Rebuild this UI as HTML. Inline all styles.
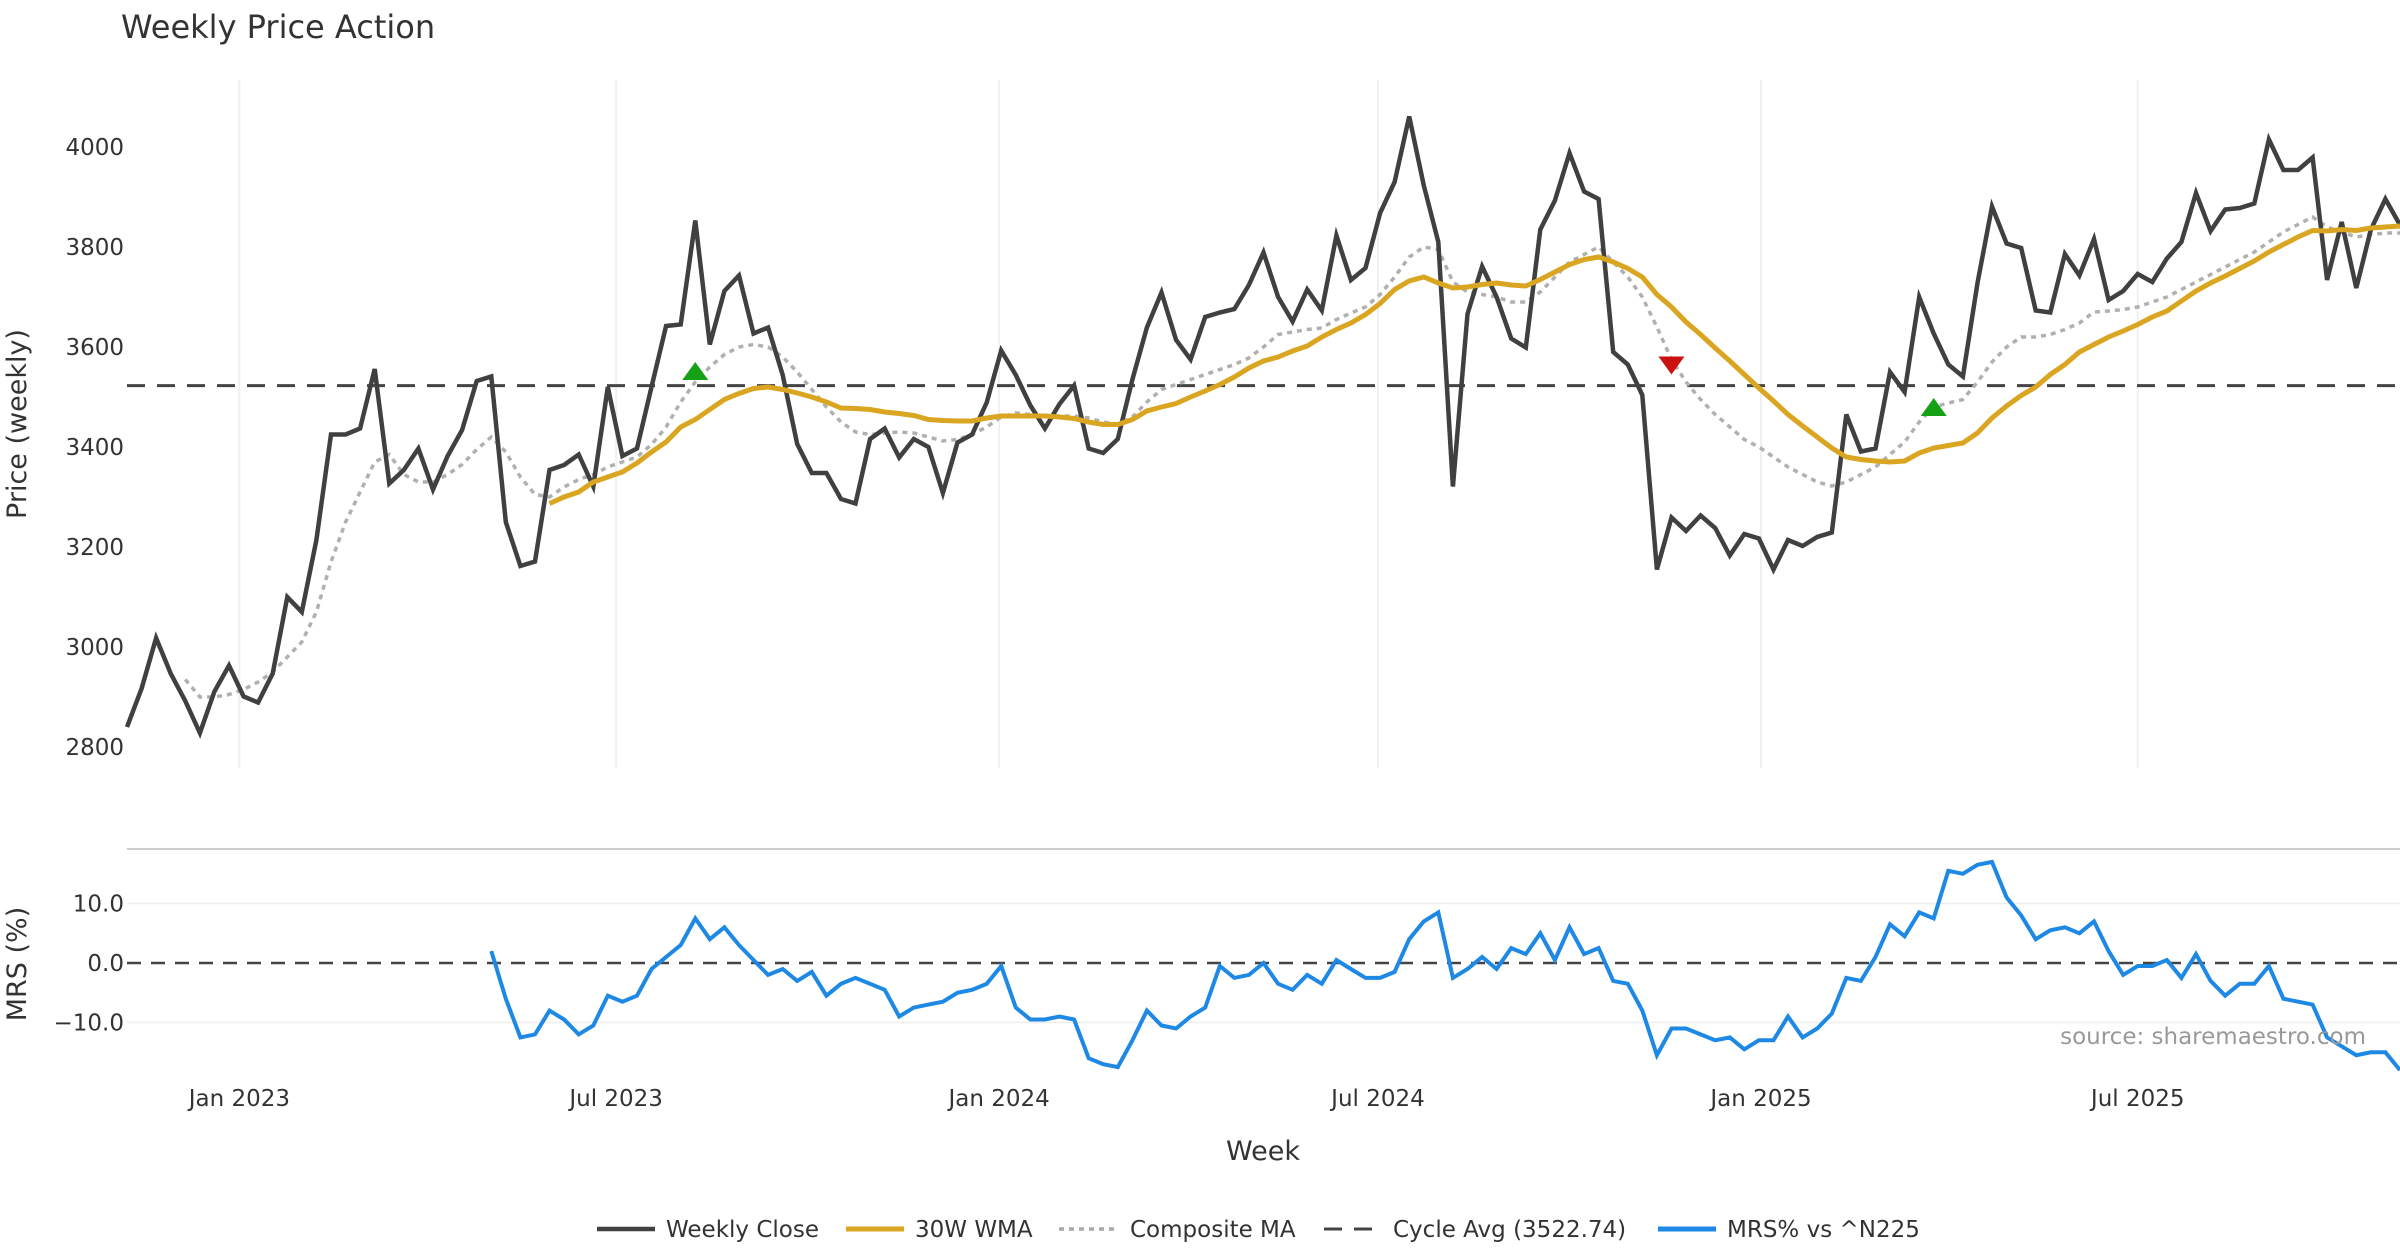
<!DOCTYPE html>
<html><head><meta charset="utf-8"><style>
html,body{margin:0;padding:0;background:#fff}
svg{display:block;font-family:"DejaVu Sans","Liberation Sans",sans-serif}
</style></head><body>
<svg id="chart" width="2400" height="1260" viewBox="0 0 2400 1260">
<text x="121" y="38" font-size="32" fill="#333">Weekly Price Action</text>
<g id="grid"></g>
<g id="price"></g>
<g id="mrs"></g>
<text x="2366" y="1044" font-size="23" fill="#999" text-anchor="end">source: sharemaestro.com</text>
<text x="1263" y="1160" font-size="27" fill="#333" text-anchor="middle">Week</text>
<text transform="translate(26,424) rotate(-90)" font-size="27" fill="#333" text-anchor="middle">Price (weekly)</text>
<text transform="translate(26,964) rotate(-90)" font-size="27" fill="#333" text-anchor="middle">MRS (%)</text>
<g id="legend" font-size="23" fill="#333">
<g><line x1="597" y1="1229" x2="655" y2="1229" stroke="#404040" stroke-width="4.5"/><text x="666" y="1237">Weekly Close</text></g>
<g><line x1="846" y1="1229" x2="904" y2="1229" stroke="#DAA520" stroke-width="5"/><text x="915" y="1237">30W WMA</text></g>
<g><line x1="1059" y1="1229" x2="1117" y2="1229" stroke="#aaa" stroke-width="3.5" stroke-dasharray="5,5"/><text x="1130" y="1237">Composite MA</text></g>
<g><line x1="1324" y1="1229" x2="1382" y2="1229" stroke="#444" stroke-width="3" stroke-dasharray="18,12"/><text x="1393" y="1237">Cycle Avg (3522.74)</text></g>
<g><line x1="1658" y1="1229" x2="1716" y2="1229" stroke="#1E88E5" stroke-width="5"/><text x="1727" y="1237">MRS% vs ^N225</text></g>
</g>
</svg>
<script>
const closeVals=[2840,2917,3018,2947,2892,2828,2911,2963,2901,2889,2947,3100,3070,3214,3425,3425,3437,3556,3327,3354,3397,3315,3382,3434,3532,3541,3250,3162,3171,3354,3364,3385,3321,3520,3382,3397,3520,3642,3645,3853,3605,3712,3743,3627,3639,3544,3406,3348,3348,3296,3287,3416,3437,3379,3416,3400,3308,3409,3425,3489,3593,3544,3483,3437,3486,3523,3397,3388,3416,3535,3639,3709,3614,3575,3660,3669,3676,3724,3789,3700,3651,3715,3673,3823,3734,3758,3868,3930,4061,3923,3810,3321,3666,3761,3700,3617,3599,3835,3893,3988,3911,3896,3590,3565,3504,3155,3259,3232,3263,3238,3183,3226,3217,3155,3214,3202,3220,3229,3465,3391,3397,3550,3510,3700,3627,3565,3541,3728,3881,3807,3798,3673,3669,3786,3743,3816,3694,3712,3746,3730,3777,3810,3908,3832,3875,3878,3887,4015,3954,3954,3979,3734,3850,3718,3835,3896,3844];
const wmaVals=[3287,3300,3310,3330,3340,3350,3368,3390,3410,3440,3455,3475,3495,3507,3517,3520,3515,3508,3500,3490,3478,3477,3475,3470,3467,3463,3455,3453,3452,3452,3458,3462,3462,3462,3462,3460,3457,3450,3445,3445,3455,3472,3480,3487,3500,3512,3525,3540,3558,3572,3580,3592,3602,3620,3635,3648,3665,3687,3715,3732,3740,3728,3718,3720,3725,3728,3724,3722,3735,3750,3765,3775,3780,3770,3757,3740,3705,3680,3650,3625,3598,3572,3545,3518,3492,3465,3442,3420,3398,3380,3375,3372,3370,3372,3388,3398,3403,3408,3428,3458,3482,3503,3520,3545,3565,3590,3605,3620,3632,3645,3660,3672,3692,3712,3728,3742,3757,3772,3790,3805,3820,3833,3832,3835,3833,3838,3840,3842];
const compVals=[2935,2900,2900,2905,2915,2930,2950,2980,3010,3070,3170,3250,3310,3370,3385,3345,3330,3330,3345,3365,3395,3420,3390,3340,3305,3300,3320,3335,3345,3360,3370,3380,3405,3440,3490,3530,3560,3585,3600,3605,3600,3580,3550,3515,3480,3450,3430,3425,3428,3430,3428,3420,3412,3415,3425,3440,3460,3468,3465,3462,3462,3462,3458,3450,3445,3460,3490,3515,3525,3535,3545,3555,3565,3578,3600,3625,3630,3635,3638,3655,3668,3680,3705,3740,3780,3800,3795,3730,3710,3705,3700,3690,3690,3710,3740,3770,3785,3800,3770,3740,3700,3640,3575,3530,3495,3465,3440,3415,3400,3380,3360,3345,3330,3322,3330,3345,3360,3385,3410,3450,3480,3488,3495,3530,3570,3600,3620,3620,3625,3635,3648,3670,3672,3675,3680,3690,3700,3715,3730,3745,3760,3775,3790,3810,3830,3845,3860,3840,3830,3820,3825,3828,3828];
const mrsVals=[2,-6,-12.5,-12,-8,-9.5,-12,-10.5,-5.5,-6.5,-5.5,-1,1,3,7.5,4,6,3,0.5,-2,-1,-3,-1.5,-5.5,-3.5,-2.5,-3.5,-4.5,-9,-7.5,-7,-6.5,-5,-4.5,-3.5,-0.5,-7.5,-9.5,-9.5,-9,-9.5,-16,-17,-17.5,-13,-8,-10.5,-11,-9,-7.5,-0.5,-2.5,-2,0,-3.5,-4.5,-2,-3.5,0.5,-1,-2.5,-2.5,-1.5,4,7,8.5,-2.5,-1,1,-1,2.5,1.5,5,0.5,6,1.5,2.5,-3,-3.5,-8,-15.5,-11,-11,-12,-13,-12.5,-14.5,-13,-13,-9,-12.5,-11,-8.5,-2.5,-3,1,6.5,4.5,8.5,7.5,15.5,15,16.5,17,11,8,4,5.5,6,5,7,2,-2,-0.5,-0.5,0.5,-2.5,1.5,-3,-5.5,-3.5,-3.5,-0.5,-6,-6.5,-7,-12.5,-14,-15.5,-15,-15,-18];
const cycleAvg=3522.74;
const priceTicks=[2800,3000,3200,3400,3600,3800,4000];
const mrsTicks=[10,0,-10];
const mrsTickLabels=["10.0","0.0","\u221210.0"];
const dateTicks=["2023-01-01","2023-07-01","2024-01-01","2024-07-01","2025-01-01","2025-07-01"];
const dateTickLabels=["Jan 2023","Jul 2023","Jan 2024","Jul 2024","Jan 2025","Jul 2025"];
const signalUp=[[39,3550],[124,3478]];
const signalDown=[[106,3565]];
const startDate="2022-11-08";

const NS="http://www.w3.org/2000/svg";
const N=closeVals.length;
const X0=127,X1=2400;
const x=i=>X0+i*(X1-X0)/(N-1);
const yP=v=>147+(4000-v)*(600/1200);
const yM=v=>963-v*5.95;
const xDate=d=>x((new Date(d)-new Date(startDate))/86400000/7);
function mk(tag,attrs,parent){const e=document.createElementNS(NS,tag);for(const k in attrs)e.setAttribute(k,attrs[k]);parent.appendChild(e);return e;}
const grid=document.getElementById('grid'),pg=document.getElementById('price'),mg=document.getElementById('mrs');

dateTicks.forEach((d,k)=>{const xx=xDate(d);
 const gl=mk('line',{x1:xx,y1:80,x2:xx,y2:768,stroke:'#eef0f4','stroke-width':2},grid);
 
 
 const t=mk('text',{x:xx,y:1106,'font-size':23,fill:'#333','text-anchor':'middle'},grid);t.textContent=dateTickLabels[k];
 
 
});
priceTicks.forEach(v=>{const t=mk('text',{x:124,y:yP(v)+8,'font-size':23,fill:'#333','text-anchor':'end'},grid);t.textContent=v;
 
 });
mrsTicks.forEach((v,k)=>{
 if(v!==0){const l=mk('line',{x1:X0,y1:yM(v),x2:X1,y2:yM(v),stroke:'#eeeeee','stroke-width':1.5},grid);
 
 }
 const t=mk('text',{x:124,y:yM(v)+8,'font-size':23,fill:'#333','text-anchor':'end'},grid);t.textContent=mrsTickLabels[k];
 
 });
const sep=mk('line',{x1:X0,y1:849,x2:X1,y2:849,stroke:'#cccccc','stroke-width':2},grid);



function path(vals,yf,g,attrs,name){const off=N-vals.length;
 const d=vals.map((v,i)=>(i?'L':'M')+x(i+off).toFixed(1)+','+yf(v).toFixed(1)).join('');
 const p=mk('path',Object.assign({d:d,fill:'none','stroke-linejoin':'miter'},attrs),g);
 
 return p;}

const ca=mk('line',{x1:X0,y1:yP(cycleAvg),x2:X1,y2:yP(cycleAvg),stroke:'#444','stroke-width':3,'stroke-dasharray':'18,12'},pg);


path(compVals,yP,pg,{stroke:'#b0b0b0','stroke-width':3.5,'stroke-dasharray':'5,5'},'composite-ma-line');
path(closeVals,yP,pg,{stroke:'#404040','stroke-width':4.5},'weekly-close-line');
path(wmaVals,yP,pg,{stroke:'#DAA520','stroke-width':5},'wma-30w-line');
signalUp.forEach(s=>{const cx=x(s[0]),cy=yP(s[1]);
 const t=mk('polygon',{points:`${cx-13},${cy+8} ${cx+13},${cy+8} ${cx},${cy-10}`,fill:'#16a016'},pg);
 
 });
signalDown.forEach(s=>{const cx=x(s[0]),cy=yP(s[1]);
 const t=mk('polygon',{points:`${cx-13},${cy-8} ${cx+13},${cy-8} ${cx},${cy+10}`,fill:'#cc1111'},pg);
 
 });

const z=mk('line',{x1:X0,y1:yM(0),x2:X1,y2:yM(0),stroke:'#444','stroke-width':2.5,'stroke-dasharray':'14,10'},mg);


path(mrsVals,yM,mg,{stroke:'#1E88E5','stroke-width':4},'mrs-line');
</script>
</body></html>
